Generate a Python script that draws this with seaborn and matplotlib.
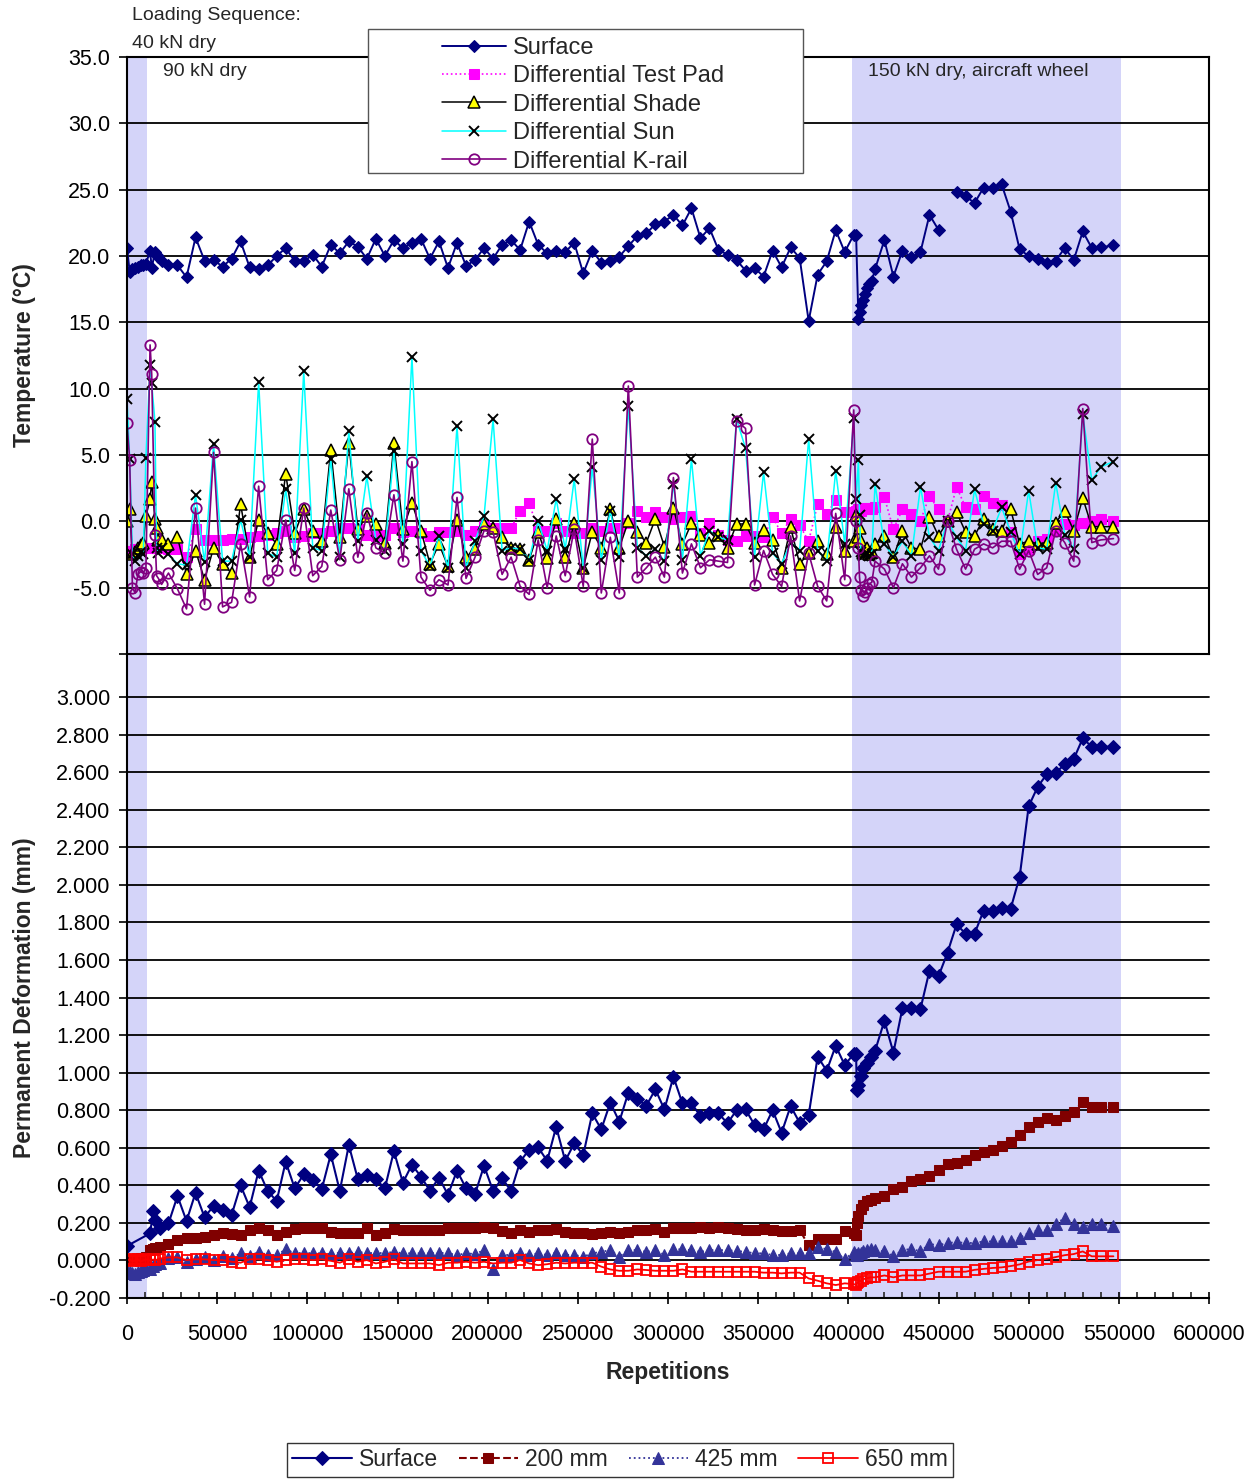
import numpy as np
import pandas as pd
import matplotlib
matplotlib.use("Agg")
import matplotlib.pyplot as plt
import matplotlib.transforms as mtransforms
from matplotlib.patches import Rectangle
from matplotlib.lines import Line2D
from matplotlib.ticker import MultipleLocator
import seaborn as sns

nan = np.nan

# ------------------------------
# Data (repetitions in thousands)
# ------------------------------
temp_reps_k = [0, 1.5, 3, 4.5, 6, 7.5, 9, 10.5, 12.8, 13.7, 15.5, 16.4, 17.4, 19.2,
               23, 28, 33, 38, 43, 48, 53, 58, 63, 68, 73, 78, 83, 88, 93, 98, 103, 108, 113, 118,
               123, 128, 133, 138, 143, 148, 153, 158, 163, 168, 173, 178, 183, 188, 193, 198, 203,
               208, 213, 218, 223, 228, 233, 238, 243, 248, 253, 258, 263, 268, 273, 278, 283, 288,
               293, 298, 303, 308, 313, 318, 323, 328, 333, 338, 343, 348, 353, 358, 363, 368, 373,
               378, 383, 388, 393, 398, 403,
               404.3, 405.6, 406.2, 406.9, 408, 409.3, 410.2, 411.7, 413, 414.8,
               420, 425, 430, 435, 440, 445, 450, 455, 460, 465, 470, 475, 480, 485, 490, 495, 500,
               505, 510, 515, 520, 525, 530, 535, 540, 547]

temp_surface = [20.6, 18.8, 19.0, 19.1, 19.2, 19.3, 19.3, 19.4, 20.4, 19.1, 20.3, 20.1, 19.9, 19.6,
                19.3, 19.3, 18.4, 21.4, 19.65, 19.7, 19.2, 19.8, 21.1, 19.15,
                19.0, 19.3, 20.0, 20.6, 19.6, 19.6, 20.1, 19.2, 20.85, 20.2,
                21.1, 20.7, 19.8, 21.3, 20.0, 21.2, 20.6, 21.0, 21.3, 19.8,
                21.1, 19.1, 21.0, 19.25, 19.7, 20.6, 19.8, 20.85, 21.2, 20.45,
                22.6, 20.85, 20.2, 20.35, 20.3, 21.0, 18.7, 20.4, 19.5, 19.6,
                19.95, 20.75, 21.5, 21.7, 22.4, 22.6, 23.1, 22.3, 23.6, 21.35,
                22.1, 20.45, 20.1, 19.7, 18.9, 19.1, 18.45, 20.4, 19.15, 20.65,
                19.85, 15.1, 18.6, 19.6, 21.95, 20.3, 21.6,
                21.6, 15.24, 15.8, 16.3, 16.7, 17.1, 17.6, 17.9, 18.1, 19.0,
                21.2, 18.45, 20.4, 19.9, 20.3, 23.1, 21.97, nan, 24.8, 24.5, 24.0, 25.15, 25.15,
                25.4, 23.35, 20.5, 20.0, 19.75, 19.45, 19.65, 20.6, 19.7, 21.85, 20.6, 20.65,
                20.8]

temp_test_pad = [-2.2, -2.2, -2.2, -2.1, -2.1, -2.1, -2.0, -2.0, -2.0, -2.0, -2.0, -2.0, -2.0, -2.0,
                 -2.1, -2.1, -2.7, -0.6, -1.4, -1.4, -1.4, -1.3, -1.3, -1.2,
                 -1.1, -1.0, -0.9, -0.7, -1.2, -1.1, -0.9, -0.9, -0.7, -0.5,
                 -0.5, -0.6, -1.0, -1.1, -1.0, -0.5, -0.8, -0.7, -0.9, -1.1,
                 -0.8, -0.8,
                 -0.7, -1.0, -0.7, -0.3, -0.5, -0.5, -0.5, 0.8, 1.4, -0.7,
                 -0.7, -0.1, -0.7, -0.9, -0.9, -0.5, -0.7, -0.5, -0.5, -0.1,
                 0.8, 0.3, 0.7, 0.3, 0.2, 0.3, 0.4, -0.9, -0.1, -1.0,
                 -1.4, -1.5, -1.1, -1.1, -1.2, 0.3, -0.9, 0.2, -0.3, -1.5,
                 1.3, 0.55, 1.6, 0.7, 0.7,
                 0.8, 0.9, 0.8, 0.8, 0.9, 1.0, 0.9, 1.0, 0.9, 1.05,
                 1.8, -0.6, 0.9, 0.55, 0.05, 1.9, 0.9, 0.0, 2.6, 1.05, 0.9, 1.9, 1.4, 1.2,
                 -0.8, -2.5, -2.1, -1.5, -1.3, -0.7, -0.2, -0.3, -0.1, 0.05, 0.2,
                 0.05]

temp_shade = [0.0, 0.9, -2.5, -2.3, -2.0, -1.8, -1.6, 0.4, 1.65, 3.0, 0.15, -0.5, -1.4, -1.4,
              -1.7, -1.2, -4.0, -2.2, -4.4, -2.0, -3.2, -3.9, 1.3, -2.7,
              0.1, -0.9, -1.7, 3.6, -0.9, 0.9, -0.7, -1.5, 5.4, -1.2,
              5.9, -0.6, 0.4, -0.2, -1.6, 5.9, -0.6, 1.4, -0.7, -3.2,
              -1.7, -3.4, 0.1,
              -2.7, -2.1, -0.2, -0.5, -1.2, -2.0, -2.1, -2.9, -0.8, -2.8,
              0.2, -2.7, -0.15, -3.5, -0.8, -2.0, 0.9, -2.0, 0.0, -0.8,
              -1.6, 0.2, -1.9, 1.0, -1.7, -0.15, -1.0, -1.6, -1.0, -2.0,
              -0.2, -0.2, -1.6, -0.65, -1.4, -3.5, -0.45, -3.2, -2.4, -1.5,
              -2.5, -0.45, -2.2, -1.5,
              0.5, -1.2, -0.5, -1.5, -2.4, -2.2, -2.0, -2.5, -2.3, -1.7,
              -1.1, -2.7, -0.7, -2.0, -2.1, 0.35, -1.1, 0.0, 0.7, -0.8, -1.1, 0.2, -0.6, -0.7,
              0.9, -1.7, -1.5, -1.7, -1.6, -0.1, 0.8, -0.7, 1.75, -0.4, -0.4,
              -0.4]

temp_sun = [9.2, 4.7, -2.5, -3.0, -2.6, -2.3, -2.5, 4.8, 11.8, 10.4, 7.5, -2.0, -2.4, -2.0,
            -2.5, -3.2, -3.3, 2.0, -3.1, 5.8, -3.0, -3.0, 0.1, -2.7,
            10.5, -2.4, -2.7, 2.4, -2.4, 11.3, -2.0, -2.2, 4.7, -2.7,
            6.8, -1.5, 3.4, -1.4, -2.2, 5.3, -1.7, 12.4, -2.2, -3.4,
            -1.1, -3.5, 7.2,
            -3.5, -1.5, 0.4, 7.7, -2.2, -2.0, -2.1, -2.9, 0.0, -2.2,
            1.7, -2.1, 3.2, -3.5, 4.1, -2.9, 0.8, -2.7, 8.7, -2.0,
            -2.6, -2.1, -3.0, 2.8, -2.9, 4.7, -2.6, -0.7, -1.2, -1.4,
            7.7, 5.5, -2.7, 3.7, -2.4, -3.2, -1.6, -2.2, 6.2, -2.2,
            -3.0, 3.8, -1.7, 7.8,
            1.7, 4.6, 0.5, -2.3, -2.6, -2.5, -2.4, -2.6, -2.5, 2.8,
            -1.7, -2.7, -1.5, -2.6, 2.6, -1.2, -2.2, 0.05, -1.2, -2.2, 2.4, -0.2, -0.7, 1.05,
            -0.8, -2.5, 2.3, -2.0, -2.1, 2.9, -1.0, -2.1, 8.1, 3.1, 4.1,
            4.5]

temp_krail = [7.4, 4.6, -5.0, -5.4, -4.0, -3.8, -3.9, -3.5, 13.3, 11.1, -1.0, -4.1, -4.3, -4.75,
              -3.9, -5.1, -6.6, 1.0, -6.25, 5.2, -6.45, -6.1, -1.7, -5.7,
              2.65, -4.4, -3.7, 0.1, -3.7, 1.0, -4.1, -3.4, 0.85, -2.9,
              2.45, -2.7, 0.6, -2.0, -2.4, 2.0, -3.0, 4.5, -4.2, -5.2,
              -4.4, -4.8, 1.8,
              -4.3, -2.7, -0.7, -0.8, -4.0, -2.7, -4.9, -5.5, -1.4, -5.0,
              -1.1, -4.1, -0.6, -4.9, 6.2, -5.4, -1.2, -5.4, 10.2, -4.2,
              -3.5, -2.7, -4.2, 3.3, -3.9, -1.7, -3.5, -2.9, -3.0, -3.1,
              7.6, 7.0, -4.8, -2.2, -4.0, -4.9, -1.1, -6.0, -2.4, -4.9,
              -6.0, 0.6, -4.4, 8.4,
              0.05, -2.0, -4.2, -5.2, -5.6, -5.35, -5.0, -4.7, -4.6, -3.0,
              -3.6, -5.0, -3.2, -4.2, -3.5, -2.6, -3.6, 0.05, -2.1, -3.6, -2.1, -1.7, -2.0, -1.5,
              -1.5, -3.6, -2.2, -4.0, -3.5, -0.7, -1.6, -3.0, 8.5, -1.6, -1.4,
              -1.3]

def_reps_k = [0, 1.5, 3, 4.5, 6, 7.5, 9, 10.5, 12.8, 14.6, 15.5, 18.3,
              23, 28, 33, 38, 43, 48, 53, 58, 63, 68, 73, 78, 83, 88, 93, 98, 103, 108, 113, 118,
              123, 128, 133, 138, 143, 148, 153, 158, 163, 168, 173, 178, 183, 188, 193, 198, 203,
              208, 213, 218, 223, 228, 233, 238, 243, 248, 253, 258, 263, 268, 273, 278, 283, 288,
              293, 298, 303, 308, 313, 318, 323, 328, 333, 338, 343, 348, 353, 358, 363, 368, 373,
              378, 383, 388, 393, 398, 403,
              404.3, 404.7, 405.6, 406.9, 408.3, 410.2, 412.4, 414.8,
              420, 425, 430, 435, 440, 445, 450, 455, 460, 465, 470, 475, 480, 485, 490, 495, 500,
              505, 510, 515, 520, 525, 530, 535, 540, 547]

def_surface = [0.077, nan, nan, nan, nan, nan, nan, nan, 0.144, 0.265, 0.215, 0.171,
               0.197, 0.343, 0.21, 0.36, 0.23, 0.29, 0.27, 0.242, 0.40, 0.283,
               0.478, 0.37, 0.316, 0.526, 0.384, 0.458, 0.428, 0.379, 0.565, 0.37,
               0.614, 0.433, 0.455, 0.432, 0.384, 0.582, 0.414, 0.51, 0.446, 0.371,
               0.44, 0.35, 0.478, 0.384, 0.354, 0.504, 0.37, 0.437, 0.37, 0.526,
               0.59, 0.602, 0.53, 0.712, 0.53, 0.623, 0.561, 0.783, 0.698, 0.84,
               0.739, 0.893, 0.858, 0.824, 0.911, 0.804, 0.978, 0.836, 0.836, 0.769,
               0.787, 0.783, 0.73, 0.80, 0.804, 0.721, 0.698, 0.80, 0.68, 0.822,
               0.733, 0.774, 1.085, 1.01, 1.143, 1.04, 1.10,
               1.10, 0.91, 0.935, 0.984, 1.024, 1.053, 1.083, 1.115,
               1.276, 1.107, 1.343, 1.343, 1.339, 1.543, 1.513, 1.639, 1.789, 1.74, 1.74, 1.862,
               1.862, 1.876, 1.872, 2.043, 2.418, 2.522, 2.588, 2.597, 2.641, 2.67, 2.78, 2.735,
               2.735,
               2.735]

def_200 = [0.005, 0.01, 0.01, 0.005, 0.01, 0.015, 0.01, 0.02, 0.055, 0.06, 0.064, 0.07,
           0.09, 0.11, 0.117, 0.12, 0.126, 0.135, 0.144, 0.14, 0.135, 0.162,
           0.171, 0.162, 0.135, 0.153, 0.165, 0.171, 0.171, 0.171, 0.153, 0.144,
           0.147, 0.147, 0.171, 0.135, 0.147, 0.165, 0.162, 0.162, 0.162, 0.162,
           0.162, 0.171, 0.171, 0.171, 0.171, 0.176, 0.171,
           0.155, 0.144, 0.162, 0.153, 0.162, 0.162, 0.165, 0.153, 0.148, 0.144,
           0.14, 0.144, 0.153, 0.144, 0.153, 0.162, 0.162, 0.165, 0.153, 0.171,
           0.171, 0.171, 0.176, 0.171, 0.176, 0.171, 0.165, 0.162, 0.162, 0.165,
           0.162, 0.158, 0.158, 0.162, 0.08, 0.115, 0.115, 0.115, 0.155, 0.144,
           0.136, 0.2, 0.235, 0.275, 0.294, 0.314, 0.324, 0.334,
           0.344, 0.383, 0.389, 0.422, 0.432, 0.452, 0.482, 0.511, 0.521, 0.535, 0.56, 0.58,
           0.59, 0.61, 0.629, 0.669, 0.708, 0.738, 0.758, 0.748, 0.771, 0.791, 0.846, 0.817,
           0.817,
           0.817]

def_425 = [-0.05, -0.06, -0.065, -0.07, -0.06, -0.055, -0.05, -0.045, -0.043, -0.03, -0.02, -0.016,
           0.011, 0.02, -0.007, 0.006, 0.02, 0.002, 0.023, 0.011, 0.038, 0.023,
           0.046, 0.029, 0.029, 0.059, 0.038, 0.041, 0.038, 0.038, 0.034, 0.041,
           0.038, 0.046, 0.038, 0.041, 0.038, 0.046, 0.038, 0.038, 0.038, 0.038,
           0.041, 0.038, 0.029, 0.038, 0.034, 0.055, -0.048, 0.029,
           0.029, 0.038, 0.029, 0.038, 0.029, 0.041, 0.029, 0.029, 0.02, 0.038,
           0.046, 0.055, 0.02, 0.055, 0.055, 0.046, 0.055, 0.029, 0.059, 0.059,
           0.055, 0.046, 0.055, 0.055, 0.055, 0.05, 0.046, 0.038, 0.038, 0.029,
           0.029, 0.038, 0.038, 0.038, 0.073, 0.059, 0.046, 0.006, 0.046,
           0.028, 0.03, 0.038, 0.042, 0.048, 0.058, 0.062, 0.054,
           0.048, 0.022, 0.054, 0.062, 0.048, 0.087, 0.081, 0.093, 0.097, 0.093, 0.093, 0.101,
           0.101, 0.101, 0.101, 0.121, 0.146, 0.16, 0.16, 0.196, 0.225, 0.196, 0.18, 0.192,
           0.192,
           0.186]

def_650 = [0.0, 0.005, -0.005, 0.0, 0.005, -0.005, 0.0, 0.005, 0.0, 0.005, 0.0, 0.01,
           0.016, 0.016, 0.002, 0.006, 0.006, 0.002, 0.002, -0.007, -0.012, 0.006,
           0.006, 0.002, -0.007, 0.002, 0.006, 0.006, 0.002, 0.006, -0.002, -0.012,
           0.006, -0.007, 0.002, -0.016, -0.007, 0.006, -0.016, -0.016, -0.016, -0.016,
           -0.025, -0.012, -0.012, -0.007, -0.012, -0.007, -0.016, -0.012,
           -0.012, 0.002, -0.016, -0.025, -0.02, -0.012, -0.016, -0.012, -0.012, -0.012,
           -0.033, -0.048, -0.055, -0.055, -0.048, -0.051, -0.055, -0.055, -0.055, -0.048,
           -0.06, -0.06, -0.06, -0.06, -0.06, -0.06, -0.06, -0.06, -0.065, -0.065,
           -0.069, -0.065, -0.065, -0.096, -0.108, -0.122, -0.131, -0.122, -0.126,
           -0.13, -0.12, -0.115, -0.11, -0.1, -0.095, -0.09, -0.09,
           -0.08, -0.09, -0.08, -0.08, -0.08, -0.07, -0.06, -0.06, -0.06, -0.06, -0.05, -0.045,
           -0.04, -0.037, -0.03, -0.021, -0.006, 0.002, 0.008, 0.018, 0.028, 0.034, 0.048, 0.022,
           0.022,
           0.022]

# loading sequence bands (repetitions)
shade_spans = [(0, 11000), (402000, 551000)]
shade_color = "#d4d4f9"

temp_df = pd.DataFrame({
    "Repetitions": np.array(temp_reps_k) * 1000,
    "Surface": temp_surface,
    "Differential Test Pad": temp_test_pad,
    "Differential Shade": temp_shade,
    "Differential Sun": temp_sun,
    "Differential K-rail": temp_krail,
})
def_df = pd.DataFrame({
    "Repetitions": np.array(def_reps_k) * 1000,
    "Surface": def_surface,
    "200 mm": def_200,
    "425 mm": def_425,
    "650 mm": def_650,
})

# ------------------------------
# Theme / layout
# ------------------------------
sns.set_style("ticks")
plt.rcParams['font.family'] = ['Liberation Sans', 'DejaVu Sans']

W, H = 1260, 1481
fig = plt.figure(figsize=(W / 100, H / 100), dpi=100)
fig.patch.set_facecolor("white")


def fx(px):
    return px / W


def fy(py):
    return 1 - py / H


ax1 = fig.add_axes([fx(127), fy(654), fx(1209) - fx(127), fy(57) - fy(654)])
ax2 = fig.add_axes([fx(127), fy(1298), fx(1209) - fx(127), fy(697) - fy(1298)])

for ax in (ax1, ax2):
    for x0, x1 in shade_spans:
        ax.axvspan(x0, x1, color=shade_color, lw=0, zorder=0.2)
    ax.set_axisbelow(True)
    ax.grid(axis="y", color="black", lw=1.3)
    ax.set_xlim(0, 600000)

# shading continues through the gap between the two panels
gap_tr = mtransforms.blended_transform_factory(ax2.transData, fig.transFigure)
for x0, x1 in shade_spans:
    fig.add_artist(Rectangle((x0, fy(697)), x1 - x0, fy(654) - fy(697), transform=gap_tr,
                             facecolor=shade_color, lw=0, zorder=0))
fig.add_artist(Line2D([fx(127), fx(127)], [fy(697), fy(654)], transform=fig.transFigure,
                      color="black", lw=1.5))

# ------------------------------
# Temperature panel
# ------------------------------
top_styles = {
    "Surface": dict(color="#000080", lw=1.4, marker="D", ms=6.5, mfc="#000080", mec="#000080"),
    "Differential Test Pad": dict(color="#ff00ff", lw=1.2, linestyle=":", marker="s", ms=7.5,
                                  mfc="#ff00ff", mec="#ff00ff"),
    "Differential Shade": dict(color="black", lw=1.1, marker="^", ms=8.5, mfc="#ffff00",
                               mec="black", mew=1.1),
    "Differential Sun": dict(color="#00ffff", lw=1.1, marker="x", ms=7.5, mec="black", mew=1.4),
    "Differential K-rail": dict(color="#800080", lw=1.2, marker="o", ms=7.5, mfc="none",
                                mec="#800080", mew=1.3),
}

for name, style in top_styles.items():
    sub = temp_df[["Repetitions", name]].copy()
    seg = sub[name].isna().cumsum()
    sub = sub.dropna()
    for k, (_, part) in enumerate(sub.groupby(seg.loc[sub.index])):
        sns.lineplot(data=part, x="Repetitions", y=name, ax=ax1, estimator=None,
                     errorbar=None, legend=False, label=name if k == 0 else "_nolegend_",
                     **style)

ax1.set_ylim(-10, 35)
yt = np.arange(-10, 36, 5)
ax1.set_yticks(yt)
ax1.set_yticklabels(["" if v == -10 else f"{v:.1f}" for v in yt])
ax1.set_xticks([])
ax1.set_xlabel("")
ax1.set_ylabel("Temperature (°C)", fontsize=16.5, fontweight="bold")
ax1.yaxis.set_label_coords(-0.084, 0.5)
for s in ax1.spines.values():
    s.set_color("black")
    s.set_linewidth(1.5)
ax1.tick_params(axis="y", direction="out", length=6, width=1.2, pad=6, labelsize=15.5,
                colors="black", left=True)

h1, l1 = ax1.get_legend_handles_labels()
leg1 = fig.legend(h1, l1, loc="upper left", bbox_to_anchor=(fx(442), fy(37)), frameon=False,
                  fontsize=17, handlelength=2.7, handletextpad=0.3, labelspacing=0.27,
                  borderpad=0, borderaxespad=0)
fig.add_artist(Rectangle((fx(368), fy(173)), fx(803) - fx(368), fy(29) - fy(173),
                         transform=fig.transFigure, facecolor="white", edgecolor="#555555",
                         lw=1.0, zorder=3))

fig.text(fx(132), fy(15), "Loading Sequence:", fontsize=14, va="center", ha="left")
fig.text(fx(132), fy(43), "40 kN dry", fontsize=14, va="center", ha="left")
fig.text(fx(163), fy(72), "90 kN dry", fontsize=14, va="center", ha="left")
fig.text(fx(868), fy(72), "150 kN dry, aircraft wheel", fontsize=14, va="center", ha="left")

# ------------------------------
# Deformation panel
# ------------------------------
bottom_styles = {
    "Surface": dict(color="#000080", lw=1.5, marker="D", ms=7, mfc="#000080", mec="#000080"),
    "200 mm": dict(color="#800000", lw=1.5, linestyle="--", marker="s", ms=7.5, mfc="#800000",
                   mec="#800000"),
    "425 mm": dict(color="#333399", lw=1.3, linestyle=":", marker="^", ms=9, mfc="#333399",
                   mec="#333399"),
    "650 mm": dict(color="#ff0000", lw=1.3, marker="s", ms=7.5, mfc="none", mec="#ff0000",
                   mew=1.3),
}

for name, style in bottom_styles.items():
    sub = def_df[["Repetitions", name]].dropna()
    sns.lineplot(data=sub, x="Repetitions", y=name, ax=ax2, estimator=None, errorbar=None,
                 legend=False, label=name, **style)

ax2.set_ylim(-0.2, 3.0)
yt2 = np.round(np.arange(-0.2, 3.01, 0.2), 3)
ax2.set_yticks(yt2)
ax2.set_yticklabels([f"{v + 0.0:.3f}" for v in yt2])
ax2.set_xticks(np.arange(0, 600001, 50000))
ax2.set_xticklabels([str(v) for v in np.arange(0, 600001, 50000)])
ax2.xaxis.set_minor_locator(MultipleLocator(10000))
ax2.spines["top"].set_visible(False)
ax2.spines["right"].set_visible(False)
for s in ("left", "bottom"):
    ax2.spines[s].set_color("black")
    ax2.spines[s].set_linewidth(1.5)
for gl in ax2.get_ygridlines():
    gl.set_clip_on(False)
ax2.tick_params(axis="y", direction="out", length=6, width=1.2, pad=6, labelsize=15.5,
                colors="black", left=True)
ax2.tick_params(axis="x", which="major", direction="inout", length=8, width=1.2, pad=14.5,
                labelsize=15.5, colors="black", bottom=True)
ax2.tick_params(axis="x", which="minor", direction="in", length=4, width=1.2, bottom=True)
ax2.set_ylabel("Permanent Deformation (mm)", fontsize=16.5, fontweight="bold")
ax2.yaxis.set_label_coords(-0.084, 0.5)
ax2.set_xlabel("Repetitions", fontsize=16.5, fontweight="bold")
ax2.xaxis.set_label_coords(0.5, -0.104)

h2, l2 = ax2.get_legend_handles_labels()
leg2 = fig.legend(h2, l2, loc="center", bbox_to_anchor=(fx(620), fy(1460)), ncol=4,
                  frameon=True, fancybox=False, edgecolor="black", fontsize=16.5,
                  handlelength=2.6, handletextpad=0.3, columnspacing=0.9, borderpad=0.25,
                  borderaxespad=0)
leg2.get_frame().set_linewidth(1.0)

fig.savefig("out.png", dpi=100, facecolor="white")
